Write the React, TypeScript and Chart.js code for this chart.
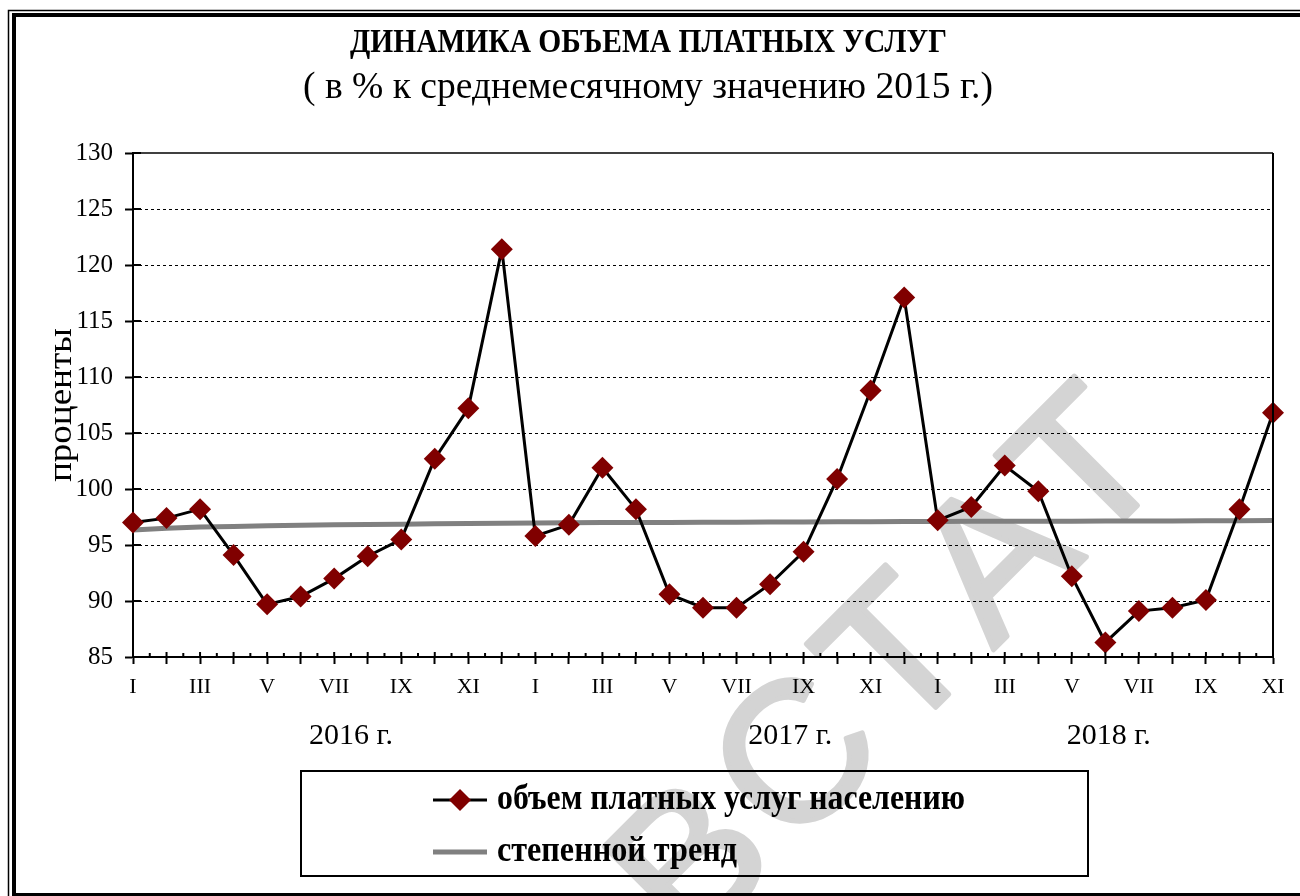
import React, { useEffect, useRef } from "react";
import { Chart, registerables } from "chart.js";

Chart.register(...registerables);

const MONTHS = ["I", "II", "III", "IV", "V", "VI", "VII", "VIII", "IX", "X", "XI", "XII"];
const CATEGORIES: string[] = [...MONTHS, ...MONTHS, ...MONTHS.slice(0, 11)];

const SERVICES = [
  97.0, 97.4, 98.2, 94.1, 89.7, 90.4, 92.0, 94.0, 95.5, 102.7, 107.2, 121.4,
  95.8, 96.8, 101.9, 98.2, 90.6, 89.4, 89.4, 91.5, 94.4, 100.9, 108.8, 117.1,
  97.2, 98.4, 102.1, 99.8, 92.2, 86.3, 89.1, 89.4, 90.1, 98.2, 106.8,
];

const TREND = [
  96.35, 96.5, 96.6, 96.66, 96.72, 96.76, 96.8, 96.83, 96.86, 96.89, 96.92, 96.95,
  96.97, 96.99, 97.0, 97.01, 97.02, 97.03, 97.04, 97.05, 97.06, 97.07, 97.08, 97.09,
  97.1, 97.11, 97.12, 97.12, 97.13, 97.14, 97.15, 97.15, 97.16, 97.17, 97.18,
];

const Y_MIN = 85;
const Y_MAX = 130;
const Y_STEP = 5;

const TITLE = "ДИНАМИКА ОБЪЕМА ПЛАТНЫХ УСЛУГ";
const SUBTITLE = "( в % к среднемесячному значению 2015 г.)";
const Y_TITLE = "проценты";
const YEARS = ["2016 г.", "2017 г.", "2018 г."];
const YEAR_AT = [6.5, 19.6, 29.1];
const SERIES_NAMES = ["объем платных услуг населению", "степенной тренд"];
const WATERMARK = "ОВСТАТ";

const SERIF = "'Liberation Serif', 'Times New Roman', serif";
const SANS = "'Liberation Sans', Arial, sans-serif";
const RED = "#800000";
const GRAY = "#808080";

function fitText(
  ctx: CanvasRenderingContext2D,
  text: string,
  x: number,
  y: number,
  w: number,
  align: CanvasTextAlign
) {
  const m = ctx.measureText(text).width;
  const s = m > 0 ? w / m : 1;
  ctx.save();
  ctx.translate(x, y);
  ctx.scale(s, 1);
  ctx.textAlign = align;
  ctx.fillText(text, 0, 0);
  ctx.restore();
}

function line(ctx: CanvasRenderingContext2D, x1: number, y1: number, x2: number, y2: number) {
  ctx.beginPath();
  ctx.moveTo(x1, y1);
  ctx.lineTo(x2, y2);
  ctx.stroke();
}

const decorPlugin = {
  id: "decor",
  beforeDraw(chart: any) {
    const ctx: CanvasRenderingContext2D = chart.ctx;
    ctx.save();
    ctx.fillStyle = "#fff";
    ctx.fillRect(0, 0, chart.width, chart.height);
    // watermark
    ctx.translate(832, 734);
    ctx.rotate((-45 * Math.PI) / 180);
    ctx.font = `198px ${SANS}`;
    (ctx as any).letterSpacing = "18px";
    ctx.fillStyle = "#d4d4d4";
    ctx.strokeStyle = "#d4d4d4";
    ctx.lineWidth = 5;
    ctx.lineJoin = "round";
    ctx.textAlign = "center";
    ctx.textBaseline = "middle";
    ctx.fillText(WATERMARK, 9, 0);
    ctx.strokeText(WATERMARK, 9, 0);
    (ctx as any).letterSpacing = "0px";
    ctx.restore();
  },
  beforeDatasetsDraw(chart: any) {
    const ctx: CanvasRenderingContext2D = chart.ctx;
    const area = chart.chartArea;
    const ys = chart.scales.y;
    ctx.save();
    ctx.strokeStyle = "#000";
    ctx.lineWidth = 1;
    ctx.setLineDash([3, 3]);
    ys.ticks.forEach((t: any) => {
      if (t.value <= Y_MIN || t.value >= Y_MAX) return;
      const py = Math.round(ys.getPixelForValue(t.value)) + 0.5;
      line(ctx, area.left, py, area.right, py);
    });
    ctx.restore();
  },
  afterDraw(chart: any) {
    const ctx: CanvasRenderingContext2D = chart.ctx;
    const area = chart.chartArea;
    const xs = chart.scales.x;
    const ys = chart.scales.y;
    ctx.save();
    ctx.strokeStyle = "#000";
    ctx.setLineDash([]);

    // plot top / right border
    ctx.lineWidth = 1.5;
    line(ctx, area.left, area.top, area.right, area.top);
    ctx.lineWidth = 2;
    line(ctx, area.right, area.top, area.right, area.bottom);

    // inner y ticks
    ctx.lineWidth = 2;
    ys.ticks.forEach((t: any) => {
      const py = ys.getPixelForValue(t.value);
      line(ctx, area.left, py, area.left + 8, py);
    });
    // upper x ticks
    for (let i = 0; i < CATEGORIES.length; i++) {
      const px = xs.getPixelForValue(i);
      line(ctx, px, area.bottom - 5, px, area.bottom);
      if (i < CATEGORIES.length - 1) {
        const mid = xs.getPixelForValue(i + 0.5);
        line(ctx, mid, area.bottom - 4, mid, area.bottom);
      }
    }

    // frame
    ctx.lineWidth = 1.5;
    ctx.strokeRect(8.5, 10.5, 1400, 1000);
    ctx.lineWidth = 4;
    ctx.strokeRect(14, 15, 1400, 880);

    ctx.fillStyle = "#000";
    ctx.textBaseline = "alphabetic";
    // title
    ctx.font = `bold 33px ${SERIF}`;
    fitText(ctx, TITLE, 648.5, 52, 597, "center");
    ctx.font = `37px ${SERIF}`;
    fitText(ctx, SUBTITLE, 648, 98, 690, "center");

    // y title
    ctx.save();
    ctx.translate(62, (area.top + area.bottom) / 2);
    ctx.rotate(-Math.PI / 2);
    ctx.font = `34px ${SERIF}`;
    ctx.textBaseline = "middle";
    fitText(ctx, Y_TITLE, 0, 0, 154, "center");
    ctx.restore();

    // years
    ctx.font = `30px ${SERIF}`;
    ctx.textAlign = "center";
    YEARS.forEach((y, i) => {
      ctx.fillText(y, xs.getPixelForValue(YEAR_AT[i]), 744);
    });

    // legend
    ctx.lineWidth = 2;
    ctx.strokeRect(301, 771, 787, 105);
    ctx.lineWidth = 3;
    ctx.strokeStyle = "#000";
    line(ctx, 433, 800, 487, 800);
    ctx.fillStyle = RED;
    ctx.beginPath();
    ctx.moveTo(460, 789);
    ctx.lineTo(471, 800);
    ctx.lineTo(460, 811);
    ctx.lineTo(449, 800);
    ctx.closePath();
    ctx.fill();
    ctx.strokeStyle = GRAY;
    ctx.lineWidth = 5;
    line(ctx, 433, 852, 487, 852);

    ctx.fillStyle = "#000";
    ctx.font = `bold 35px ${SERIF}`;
    fitText(ctx, SERIES_NAMES[0], 497, 809, 468, "left");
    fitText(ctx, SERIES_NAMES[1], 497, 861, 240, "left");

    ctx.restore();
  },
};

export default function App() {
  const ref = useRef<HTMLCanvasElement | null>(null);
  useEffect(() => {
    if (!ref.current) return;
    const chart = new Chart(ref.current, {
      type: "line",
      data: {
        labels: CATEGORIES,
        datasets: [
          {
            label: SERIES_NAMES[0],
            data: SERVICES,
            borderColor: "#000",
            borderWidth: 3,
            pointStyle: "rectRot",
            pointRadius: 11,
            pointBackgroundColor: RED,
            pointBorderColor: RED,
            pointBorderWidth: 0,
            tension: 0,
          },
          {
            label: SERIES_NAMES[1],
            data: TREND,
            borderColor: GRAY,
            borderWidth: 5,
            pointRadius: 0,
            tension: 0,
          },
        ],
      },
      options: {
        responsive: false,
        animation: false,
        devicePixelRatio: 1,
        layout: { padding: { left: 0, right: 27, top: 153, bottom: 0 } },
        plugins: {
          legend: { display: false },
          tooltip: { enabled: false },
          title: { display: false },
        },
        scales: {
          x: {
            type: "category",
            offset: false,
            grid: {
              display: true,
              drawOnChartArea: false,
              drawTicks: true,
              tickLength: 7,
              tickColor: "#000",
              tickWidth: 2,
            },
            border: { display: true, color: "#000", width: 2 },
            ticks: {
              autoSkip: false,
              maxRotation: 0,
              minRotation: 0,
              padding: 10,
              color: "#000",
              font: { family: SERIF, size: 22 },
              callback: (_v: any, i: number) => (i % 2 === 0 ? CATEGORIES[i] : ""),
            },
            afterFit: (s: any) => {
              s.height = 239;
            },
          },
          y: {
            min: Y_MIN,
            max: Y_MAX,
            grid: {
              display: true,
              drawOnChartArea: false,
              drawTicks: true,
              tickLength: 8,
              tickColor: "#000",
              tickWidth: 2,
            },
            border: { display: true, color: "#000", width: 2 },
            ticks: {
              stepSize: Y_STEP,
              padding: 12,
              color: "#000",
              font: { family: SERIF, size: 25 },
            },
            afterFit: (s: any) => {
              s.width = 133;
            },
          },
        },
      },
      plugins: [decorPlugin],
    });
    return () => chart.destroy();
  }, []);
  return (
    <div style={{ position: "fixed", left: 0, top: 0, width: 1300, height: 896, background: "#fff" }}>
      <canvas ref={ref} width={1300} height={896} style={{ display: "block", width: 1300, height: 896 }} />
    </div>
  );
}
